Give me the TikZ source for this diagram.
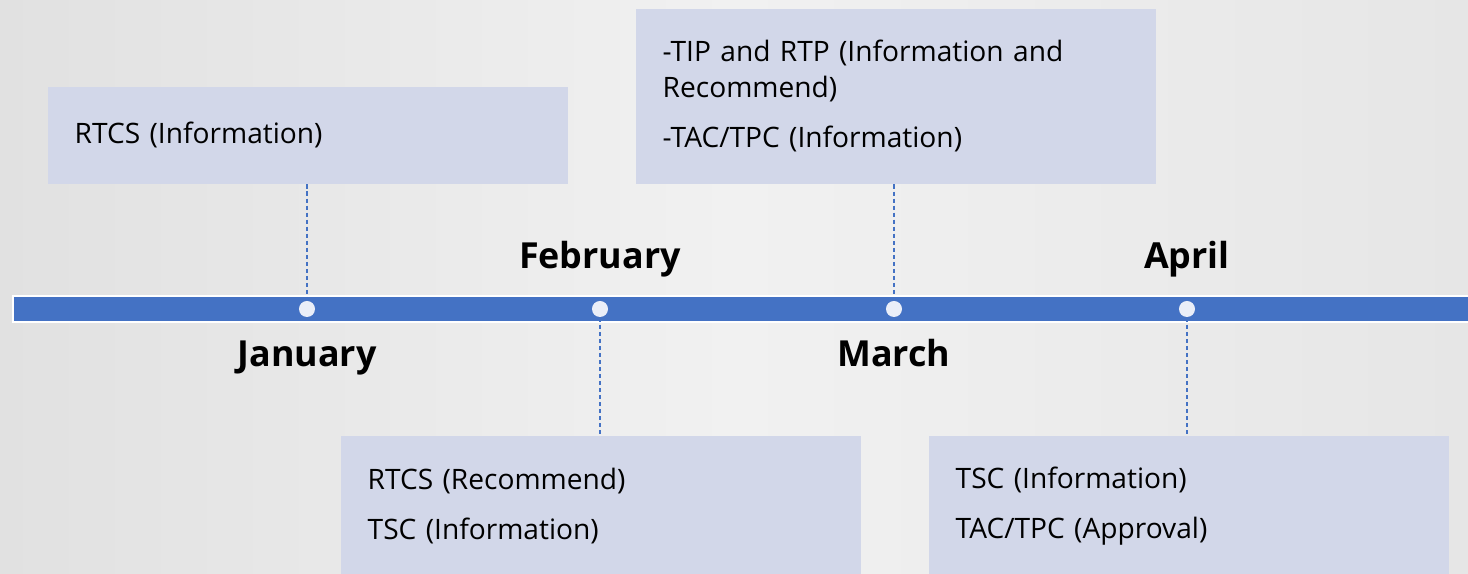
\documentclass[tikz,border=0pt]{standalone}
\usepackage{fontspec}
\setmainfont{Open Sans}
\usetikzlibrary{positioning}
\tikzstyle{timeline} = [x = .01cm, y = -.01cm]
\definecolor{barColor}{HTML}{4472C4}
\definecolor{dotColor}{HTML}{EAEEF8}
\definecolor{boxColor}{HTML}{D2D7E9}
\definecolor{backLeft}{HTML}{E1E1E1}
\definecolor{backMid}{HTML}{F1F1F1}
\definecolor{backRight}{HTML}{E6E6E6}
\definecolor{dashColor}{HTML}{4472C4}
\tikzstyle{dotStyle} = [circle, fill=dotColor, inner sep=0pt, minimum size=.16cm]
\tikzstyle{monthText} = [font=\fontsize{10.2}{12}\selectfont\bfseries, anchor=base, inner sep=0pt]
\tikzstyle{noteBox} = [fill=boxColor, anchor=north west, inner xsep=.27cm, inner ysep=0pt, text width=4.66cm, minimum width=5.2cm, align=left, font=\fontsize{8}{10.2}\selectfont]
\tikzstyle{linkLine} = [color=dashColor, dash pattern=on 1.2pt off .8pt, line width=.35pt]

\begin{document}
\begin{tikzpicture}[timeline]
  % background
  \shade [left color=backLeft, right color=backRight, middle color=backMid] (0,0) rectangle (1468,574);
  \useasboundingbox (0,0) rectangle (1468,574);

  % bar
  \fill [white] (12,295) rectangle (1468,323);
  \fill [barColor] (14,297) rectangle (1468,321);
  \node [dotStyle] (jan) at (307,309) {};
  \node [dotStyle] (feb) at (600,309) {};
  \node [dotStyle] (mar) at (894,309) {};
  \node [dotStyle] (apr) at (1187,309) {};

  % months
  \node [monthText] (febLabel) at (600,269) {February};
  \node [monthText] (aprLabel) at (1187,269) {April};
  \node [monthText] (janLabel) at (307,367) {January};
  \node [monthText] (marLabel) at (894,367) {March};

  % notes
  \node [noteBox, minimum height=.97cm] (janNote) at (47,86) {RTCS (Information)};
  \node [noteBox, minimum height=1.75cm] (marNote) at (635,8)
    {-TIP and RTP (Information and\\Recommend)\\[4pt]-TAC/TPC (Information)};
  \node [noteBox, minimum height=1.4cm] (febNote) at (340,435)
    {RTCS (Recommend)\\[4pt]TSC (Information)};
  \node [noteBox, minimum height=1.4cm] (aprNote) at (928,435)
    {TSC (Information)\\[4pt]TAC/TPC (Approval)};

  % links
  \draw [linkLine] (janNote.south -| jan) -- (jan.north);
  \draw [linkLine] (marNote.south -| mar) -- (mar.north);
  \draw [linkLine] (feb.south) -- (febNote.north -| feb);
  \draw [linkLine] (apr.south) -- (aprNote.north -| apr);
\end{tikzpicture}
\end{document}
